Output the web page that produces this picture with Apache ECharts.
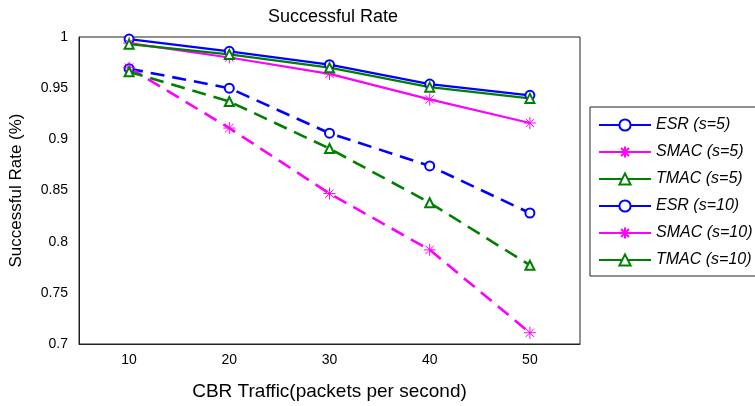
<!DOCTYPE html>
<html>
<head>
<meta charset="utf-8">
<script src="https://cdn.jsdelivr.net/npm/echarts@6/dist/echarts.min.js"></script>
<style>html,body{margin:0;padding:0;background:#fff}#c{width:755px;height:406px}</style>
</head>
<body>
<div id="c"></div>
<script>
const categories = ['10', '20', '30', '40', '50'];
const esr5   = [0.998, 0.986, 0.973, 0.954, 0.943];
const smac5  = [0.994, 0.980, 0.964, 0.939, 0.916];
const tmac5  = [0.993, 0.983, 0.970, 0.951, 0.940];
const esr10  = [0.969, 0.950, 0.906, 0.874, 0.828];
const smac10 = [0.970, 0.911, 0.847, 0.792, 0.711];
const tmac10 = [0.966, 0.937, 0.891, 0.838, 0.777];
const seriesNames = ['ESR (s=5)', 'SMAC (s=5)', 'TMAC (s=5)', 'ESR (s=10)', 'SMAC (s=10)', 'TMAC (s=10)'];

const BLUE = '#0000ff', MAG = '#ff00ff', GREEN = '#008000';
const FONT = '"Liberation Sans", Arial, Helvetica, sans-serif';
const asterisk = 'path://M5,0L5,10M0,5L10,5M1.5,1.5L8.5,8.5M1.5,8.5L8.5,1.5';

function mk(name, data, color, dashed, kind) {
  const s = {
    name: name, type: 'line', data: data,
    color: color,
    lineStyle: { color: color, width: dashed ? 2.6 : 2.2, type: dashed ? [14, 8] : 'solid' },
    symbolSize: 9,
    animation: false
  };
  if (kind === 'o') { s.symbol = 'emptyCircle'; s.itemStyle = { color: color, borderWidth: 1.2 }; }
  else if (kind === '^') { s.symbol = 'emptyTriangle'; s.itemStyle = { color: color, borderWidth: 1.2 }; }
  else { s.symbol = asterisk; s.symbolSize = 12; s.itemStyle = { color: color, borderColor: color, borderWidth: 1 }; }
  return s;
}

const chart = echarts.init(document.getElementById('c'), null, { renderer: 'canvas' });
chart.setOption({
  backgroundColor: '#fff',
  animation: false,
  title: {
    text: 'Successful Rate', left: 328, top: 3, textAlign: 'center',
    textStyle: { fontFamily: FONT, fontSize: 18, fontWeight: 'normal', color: '#000' }
  },
  grid: { left: 77, right: 175, top: 37, bottom: 60, show: true, borderColor: '#222', borderWidth: 1, containLabel: false },
  legend: {
    orient: 'vertical', left: 590, top: 107,
    data: seriesNames,
    itemWidth: 52, itemHeight: 14, itemGap: 11,
    padding: [10, 120, 8, 8],
    borderColor: '#222', borderWidth: 1, backgroundColor: '#fff',
    lineStyle: { type: 'solid' },
    textStyle: { fontFamily: FONT, fontSize: 16, fontStyle: 'italic', color: '#000', padding: [0, 0, 0, 0] }
  },
  xAxis: {
    type: 'category', data: categories, boundaryGap: true,
    name: 'CBR Traffic(packets per second)', nameLocation: 'middle', nameGap: 38,
    nameTextStyle: { fontFamily: FONT, fontSize: 19, color: '#000' },
    axisLine: { lineStyle: { color: '#222', width: 1 } },
    axisTick: { show: false },
    axisLabel: { fontFamily: FONT, fontSize: 14, color: '#000', margin: 9 },
    splitLine: { show: false }
  },
  yAxis: {
    type: 'value', min: 0.7, max: 1, interval: 0.05,
    name: 'Successful Rate (%)', nameLocation: 'middle', nameGap: 54,
    nameTextStyle: { fontFamily: FONT, fontSize: 17, color: '#000' },
    axisLine: { show: true, lineStyle: { color: '#222', width: 1 } },
    axisTick: { show: false },
    axisLabel: { fontFamily: FONT, fontSize: 14, color: '#000', margin: 11,
      formatter: v => String(+v.toFixed(2)) },
    splitLine: { show: false }
  },
  series: [
    mk(seriesNames[0], esr5, BLUE, false, 'o'),
    mk(seriesNames[1], smac5, MAG, false, '*'),
    mk(seriesNames[2], tmac5, GREEN, false, '^'),
    mk(seriesNames[3], esr10, BLUE, true, 'o'),
    mk(seriesNames[4], smac10, MAG, true, '*'),
    mk(seriesNames[5], tmac10, GREEN, true, '^')
  ]
});
</script>
</body>
</html>
